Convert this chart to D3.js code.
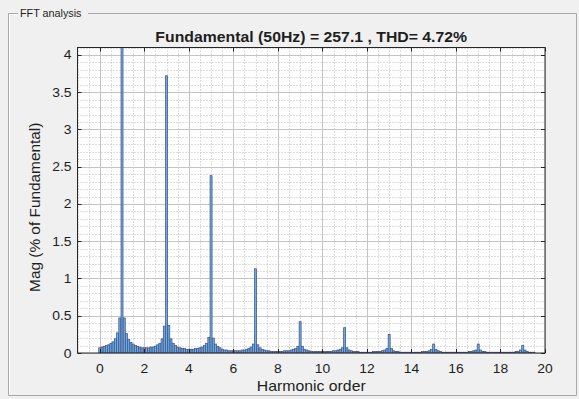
<!DOCTYPE html>
<html>
<head>
<meta charset="utf-8">
<script src="https://cdn.jsdelivr.net/npm/d3@7"></script>
<style>
  html, body { margin: 0; padding: 0; background: #f0f0f0; }
  svg { display: block; }
  text { font-family: "Liberation Sans", Arial, Helvetica, sans-serif; fill: #1e1e1e; }
</style>
</head>
<body>
<svg id="chart" width="579" height="399"></svg>
<script>
// FFT spectrum, harmonic order 0 .. 19.5 in steps of 0.1 (magnitude in % of fundamental)
const orderStart = 0;
const orderStep = 0.1;
const magnitude = [
  // 0.0 - 0.9
  0.07, 0.08, 0.09, 0.10, 0.11, 0.13, 0.15, 0.19, 0.27, 0.47,
  // 1.0 - 1.9
  100, 0.47, 0.26, 0.18, 0.14, 0.12, 0.10, 0.09, 0.08, 0.07,
  // 2.0 - 2.9
  0.07, 0.07, 0.07, 0.08, 0.08, 0.09, 0.11, 0.13, 0.19, 0.36,
  // 3.0 - 3.9
  3.72, 0.37, 0.19, 0.13, 0.10, 0.08, 0.07, 0.06, 0.06, 0.05,
  // 4.0 - 4.9
  0.05, 0.05, 0.05, 0.06, 0.06, 0.07, 0.08, 0.10, 0.13, 0.21,
  // 5.0 - 5.9
  2.38, 0.20, 0.12, 0.09, 0.07, 0.05, 0.04, 0.04, 0.03, 0.03,
  // 6.0 - 6.9
  0.03, 0.03, 0.03, 0.03, 0.04, 0.04, 0.05, 0.06, 0.08, 0.12,
  // 7.0 - 7.9
  1.13, 0.11, 0.07, 0.05, 0.04, 0.03, 0.03, 0.02, 0.02, 0.02,
  // 8.0 - 8.9
  0.02, 0.02, 0.02, 0.03, 0.03, 0.03, 0.04, 0.05, 0.06, 0.09,
  // 9.0 - 9.9
  0.42, 0.09, 0.05, 0.04, 0.03, 0.02, 0.02, 0.02, 0.02, 0.02,
  // 10.0 - 10.9
  0.02, 0.02, 0.02, 0.02, 0.02, 0.03, 0.03, 0.04, 0.05, 0.07,
  // 11.0 - 11.9
  0.34, 0.07, 0.04, 0.03, 0.02, 0.02, 0.02, 0.01, 0.01, 0.01,
  // 12.0 - 12.9
  0.01, 0.01, 0.01, 0.02, 0.02, 0.02, 0.02, 0.03, 0.04, 0.06,
  // 13.0 - 13.9
  0.25, 0.06, 0.03, 0.02, 0.02, 0.01, 0.01, 0.01, 0.01, 0.01,
  // 14.0 - 14.9
  0.01, 0.01, 0.01, 0.01, 0.01, 0.02, 0.02, 0.02, 0.03, 0.05,
  // 15.0 - 15.9
  0.12, 0.05, 0.03, 0.02, 0.01, 0.01, 0.01, 0.01, 0.01, 0.01,
  // 16.0 - 16.9
  0.01, 0.01, 0.01, 0.01, 0.01, 0.01, 0.02, 0.02, 0.03, 0.04,
  // 17.0 - 17.9
  0.12, 0.04, 0.02, 0.02, 0.01, 0.01, 0.01, 0.01, 0.01, 0.01,
  // 18.0 - 18.9
  0.01, 0.01, 0.01, 0.01, 0.01, 0.01, 0.01, 0.02, 0.02, 0.04,
  // 19.0 - 19.5
  0.10, 0.04, 0.02, 0.01, 0.01, 0.01
];

const xTicks = [0, 2, 4, 6, 8, 10, 12, 14, 16, 18, 20];
const yTicks = [0, 0.5, 1, 1.5, 2, 2.5, 3, 3.5, 4];
const yTickLabels = ["0", "0.5", "1", "1.5", "2", "2.5", "3", "3.5", "4"];
const xDomain = [-1, 20];
const yDomain = [0, 4.1];

const panelTitle = "FFT analysis";
const chartTitle = "Fundamental (50Hz) = 257.1 , THD= 4.72%";
const xLabel = "Harmonic order";
const yLabel = "Mag (% of Fundamental)";

const svg = d3.select("#chart");
const W = 579, H = 399;
const plot = { left: 77.5, right: 545, top: 47.5, bottom: 353 };
const sx = 1.13;   // horizontal stretch applied to all text

const x = d3.scaleLinear().domain(xDomain).range([plot.left, plot.right]);
const y = d3.scaleLinear().domain(yDomain).range([plot.bottom, plot.top]);

// figure background
svg.append("rect").attr("width", W).attr("height", H).attr("fill", "#f0f0f0");

// uipanel frame with its title
const frame = svg.append("g").attr("fill", "none");
const fL = 8.5, fT = 13.5, fR = 576.5, fB = 395.5;
frame.append("path")
  .attr("d", `M18,${fT} H${fL} V${fB} H${fR} V${fT} H88`)
  .attr("stroke", "#a8a8a8").attr("stroke-width", 1);
frame.append("path")
  .attr("d", `M18,${fT + 1} H${fL + 1} V${fB - 1}`)
  .attr("stroke", "#ffffff").attr("stroke-width", 1);
svg.append("text")
  .attr("transform", `translate(20,17) scale(1.08,1)`)
  .attr("font-size", 10)
  .attr("fill", "#1b1b3a")
  .text(panelTitle);

// axes background
svg.append("rect")
  .attr("x", plot.left).attr("y", plot.top)
  .attr("width", plot.right - plot.left).attr("height", plot.bottom - plot.top)
  .attr("fill", "#ffffff");

// minor grid (dotted)
const xMinor = d3.range(-1, 20.001, 0.5).filter(v => !xTicks.includes(v));
const yMinor = d3.range(0, 4.1001, 0.1).map(v => +v.toFixed(1)).filter(v => !yTicks.includes(v));
const grid = svg.append("g");
grid.selectAll(".xminor").data(xMinor).join("line")
  .attr("x1", d => Math.round(x(d)) + 0.5).attr("x2", d => Math.round(x(d)) + 0.5)
  .attr("y1", plot.top).attr("y2", plot.bottom)
  .attr("stroke", "#bcbcbc").attr("stroke-width", 1).attr("stroke-dasharray", "1,2");
grid.selectAll(".yminor").data(yMinor).join("line")
  .attr("y1", d => Math.round(y(d)) + 0.5).attr("y2", d => Math.round(y(d)) + 0.5)
  .attr("x1", plot.left).attr("x2", plot.right)
  .attr("stroke", "#bcbcbc").attr("stroke-width", 1).attr("stroke-dasharray", "1,2");

// major grid
grid.selectAll(".xmajor").data(xTicks).join("line")
  .attr("x1", d => Math.round(x(d)) + 0.5).attr("x2", d => Math.round(x(d)) + 0.5)
  .attr("y1", plot.top).attr("y2", plot.bottom)
  .attr("stroke", "#c4c4c4").attr("stroke-width", 1);
grid.selectAll(".ymajor").data(yTicks).join("line")
  .attr("y1", d => Math.round(y(d)) + 0.5).attr("y2", d => Math.round(y(d)) + 0.5)
  .attr("x1", plot.left).attr("x2", plot.right)
  .attr("stroke", "#c4c4c4").attr("stroke-width", 1);

// spectrum bars, clipped to the axes
svg.append("clipPath").attr("id", "plotClip")
  .append("rect")
  .attr("x", plot.left).attr("y", plot.top)
  .attr("width", plot.right - plot.left).attr("height", plot.bottom - plot.top);

const spectrum = magnitude.map((m, i) => ({ order: orderStart + i * orderStep, mag: m }));
const barW = x(orderStep) - x(0);

svg.append("g").attr("clip-path", "url(#plotClip)")
  .selectAll("rect").data(spectrum).join("rect")
  .attr("x", d => x(d.order) - barW * 0.45)
  .attr("width", barW * 0.9)
  .attr("y", d => y(d.mag))
  .attr("height", d => y(0) - y(d.mag))
  .attr("fill", "#5cb4e4")
  .attr("stroke", "#4d4d88")
  .attr("stroke-width", 0.75);

// axes box and ticks (inward, on all four sides)
const axisColor = "#262626";
svg.append("rect")
  .attr("x", plot.left).attr("y", plot.top)
  .attr("width", plot.right - plot.left).attr("height", plot.bottom - plot.top)
  .attr("fill", "none").attr("stroke", axisColor).attr("stroke-width", 1);

const tickLen = 4;
const ticks = svg.append("g").attr("stroke", axisColor).attr("stroke-width", 1);
xTicks.forEach(t => {
  const px = Math.round(x(t)) + 0.5;
  ticks.append("line").attr("x1", px).attr("x2", px).attr("y1", plot.bottom).attr("y2", plot.bottom - tickLen);
  ticks.append("line").attr("x1", px).attr("x2", px).attr("y1", plot.top).attr("y2", plot.top + tickLen);
});
yTicks.forEach(t => {
  const py = Math.round(y(t)) + 0.5;
  ticks.append("line").attr("y1", py).attr("y2", py).attr("x1", plot.left).attr("x2", plot.left + tickLen);
  ticks.append("line").attr("y1", py).attr("y2", py).attr("x1", plot.right).attr("x2", plot.right - tickLen);
});

// tick labels
svg.append("g").selectAll("text").data(xTicks).join("text")
  .attr("transform", d => `translate(${x(d)},${plot.bottom + 20}) scale(1.07,1)`)
  .attr("text-anchor", "middle")
  .attr("font-size", 13)
  .text(d => d);

svg.append("g").selectAll("text").data(yTicks).join("text")
  .attr("transform", d => `translate(${plot.left - 6},${y(d) + 4.5}) scale(1.07,1)`)
  .attr("text-anchor", "end")
  .attr("font-size", 13)
  .text((d, i) => yTickLabels[i]);

// title and axis labels
const cx = (plot.left + plot.right) / 2;
svg.append("text")
  .attr("transform", `translate(${cx},42) scale(${sx},1)`)
  .attr("text-anchor", "middle")
  .attr("font-size", 14)
  .attr("font-weight", "bold")
  .attr("fill", "#000")
  .text(chartTitle);

svg.append("text")
  .attr("transform", `translate(${cx},391) scale(${sx},1)`)
  .attr("text-anchor", "middle")
  .attr("font-size", 14)
  .text(xLabel);

svg.append("text")
  .attr("transform", `translate(40,${(plot.top + plot.bottom) / 2 + 7}) rotate(-90) scale(1.1,1)`)
  .attr("text-anchor", "middle")
  .attr("font-size", 14)
  .text(yLabel);
</script>
</body>
</html>
